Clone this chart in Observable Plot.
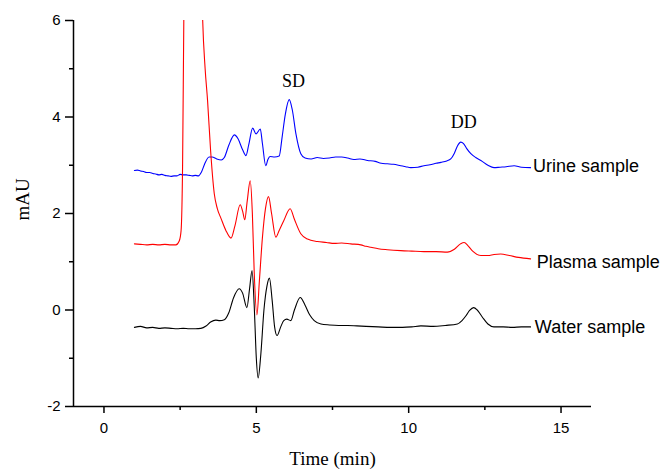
<!DOCTYPE html>
<html><head><meta charset="utf-8">
<script src="https://cdn.jsdelivr.net/npm/d3@7"></script>
<script src="https://cdn.jsdelivr.net/npm/@observablehq/plot@0.6"></script>
<style>body{margin:0;background:#fff}</style>
</head><body><div id="chart"></div>
<script>
// [time (min), signal (mAU)]
const urine = [
[1.0,2.89],[1.1,2.90],[1.2,2.88],[1.3,2.87],[1.4,2.85],[1.5,2.85],[1.6,2.83],[1.7,2.82],[1.8,2.80],[1.9,2.81],[2.0,2.79],
[2.1,2.78],[2.2,2.77],[2.3,2.78],[2.4,2.78],[2.5,2.81],[2.6,2.80],[2.7,2.80],[2.8,2.79],[2.9,2.78],[3.0,2.79],[3.1,2.78],
[3.2,2.86],[3.3,3.02],[3.45,3.17],[3.55,3.17],[3.7,3.13],[3.85,3.11],[3.95,3.16],[4.1,3.42],[4.28,3.63],[4.4,3.55],
[4.55,3.32],[4.66,3.20],[4.75,3.42],[4.88,3.77],[4.99,3.65],[5.13,3.75],[5.2,3.45],[5.31,2.99],[5.38,3.12],[5.45,3.18],
[5.6,3.17],[5.75,3.19],[5.85,3.60],[5.95,4.05],[6.08,4.36],[6.18,4.15],[6.3,3.65],[6.46,3.24],[6.6,3.15],[6.8,3.13],
[7.0,3.16],[7.2,3.14],[7.4,3.15],[7.6,3.17],[7.8,3.17],[8.0,3.15],[8.2,3.12],[8.4,3.13],[8.65,3.10],[8.9,3.08],[9.1,3.04],
[9.3,3.03],[9.5,3.02],[9.74,2.99],[9.9,2.97],[10.07,2.95],[10.3,2.96],[10.5,2.99],[10.7,3.01],[10.9,3.04],[11.06,3.06],
[11.25,3.09],[11.38,3.13],[11.5,3.25],[11.6,3.40],[11.71,3.48],[11.8,3.45],[11.9,3.35],[12.04,3.24],[12.2,3.16],
[12.37,3.10],[12.6,3.00],[12.8,2.95],[13.0,2.96],[13.2,2.97],[13.46,2.99],[13.7,2.96],[14.0,2.95]
];
const plasma = [
[1.0,1.37],[1.2,1.36],[1.4,1.35],[1.6,1.36],[1.8,1.35],[2.0,1.36],[2.2,1.35],[2.36,1.35],[2.47,1.43],[2.53,1.64],
[2.58,3.0],[2.62,6.0],[2.7,10],[2.9,14],[3.1,11],[3.24,6.0],[3.32,5.0],[3.40,4.34],[3.5,3.3],[3.62,2.41],[3.72,2.10],
[3.84,1.90],[4.0,1.65],[4.17,1.49],[4.3,1.75],[4.47,2.18],[4.55,2.05],[4.62,1.87],[4.7,2.25],[4.8,2.68],[4.87,2.0],
[4.93,0.8],[5.02,-0.10],[5.1,0.6],[5.2,1.5],[5.3,2.1],[5.4,2.35],[5.5,2.0],[5.64,1.51],[5.75,1.65],[5.9,1.85],
[6.11,2.10],[6.25,1.88],[6.46,1.58],[6.68,1.47],[7.0,1.42],[7.3,1.40],[7.56,1.38],[7.8,1.39],[8.1,1.37],[8.43,1.35],
[8.6,1.32],[8.76,1.30],[9.0,1.27],[9.3,1.25],[9.74,1.23],[10.1,1.22],[10.5,1.21],[10.9,1.21],[11.27,1.20],[11.5,1.26],
[11.7,1.37],[11.82,1.40],[11.95,1.33],[12.1,1.22],[12.37,1.13],[12.6,1.13],[12.8,1.15],[13.02,1.16],[13.3,1.13],
[13.6,1.09],[14.0,1.06]
];
const water = [
[1.0,-0.36],[1.2,-0.34],[1.4,-0.37],[1.6,-0.36],[1.8,-0.38],[2.0,-0.37],[2.2,-0.38],[2.4,-0.39],[2.6,-0.38],[2.8,-0.39],
[3.0,-0.39],[3.18,-0.38],[3.35,-0.33],[3.5,-0.25],[3.67,-0.21],[3.8,-0.22],[3.95,-0.20],[4.1,-0.05],[4.25,0.25],
[4.44,0.44],[4.55,0.35],[4.69,0.05],[4.78,0.45],[4.86,0.82],[4.93,0.1],[5.0,-1.0],[5.06,-1.41],[5.15,-0.9],[5.25,0.0],
[5.35,0.5],[5.43,0.66],[5.52,0.2],[5.6,-0.35],[5.68,-0.53],[5.8,-0.35],[5.9,-0.22],[6.0,-0.19],[6.13,-0.22],[6.25,0.0],
[6.44,0.26],[6.6,0.10],[6.75,-0.10],[6.9,-0.22],[7.12,-0.29],[7.4,-0.31],[7.7,-0.32],[8.0,-0.32],[8.3,-0.33],[8.6,-0.34],
[9.0,-0.35],[9.4,-0.36],[9.8,-0.36],[10.1,-0.35],[10.4,-0.33],[10.8,-0.34],[11.2,-0.32],[11.6,-0.29],[11.75,-0.22],
[11.88,-0.12],[12.0,-0.01],[12.13,0.05],[12.25,0.0],[12.42,-0.15],[12.6,-0.29],[12.8,-0.35],[13.1,-0.35],[13.4,-0.36],
[13.7,-0.35],[14.0,-0.35]
];
const seriesNames = ["Urine sample", "Plasma sample", "Water sample"];
const seriesLabelX = [14.08, 14.2, 14.14];
const seriesLabelY = [2.97, 0.99, -0.36];
const peakNames = ["SD", "DD"];
const peakX = [6.22, 11.81];
const peakY = [4.74, 3.90];
const xTicks = [0, 5, 10, 15];
const xMinor = [2.5, 7.5, 12.5];
const yTicks = [-2, 0, 2, 4, 6];
const yMinor = [-1, 1, 3, 5];

const sans = "'Liberation Sans', Arial, sans-serif";
const serif = "'Liberation Serif', 'Times New Roman', serif";
const X = d => d[0], Y = d => d[1];

const chart = Plot.plot({
  width: 662, height: 469,
  marginLeft: 73, marginRight: 71, marginTop: 20, marginBottom: 63,
  style: {fontFamily: sans, fontSize: "15px", background: "#fff", color: "#000"},
  x: {domain: [-1, 16]},
  y: {domain: [-2, 6]},
  marks: [
    Plot.line(urine, {x: X, y: Y, stroke: "#0000ff", strokeWidth: 1.1, curve: "monotone-x", clip: true}),
    Plot.line(plasma, {x: X, y: Y, stroke: "#ff0000", strokeWidth: 1.1, curve: "monotone-x", clip: true}),
    Plot.line(water, {x: X, y: Y, stroke: "#000000", strokeWidth: 1.1, curve: "monotone-x", clip: true}),
    Plot.ruleX([-1], {stroke: "#000", strokeWidth: 1.5}),
    Plot.ruleY([-2], {stroke: "#000", strokeWidth: 1.5}),
    Plot.axisX(xTicks, {tickSize: 7, tickPadding: 9, strokeWidth: 1.5, label: null, fontSize: 15, tickFormat: d => String(d)}),
    Plot.axisX(xMinor, {tickSize: 4, strokeWidth: 1.5, label: null, tickFormat: () => ""}),
    Plot.axisY(yTicks, {tickSize: 8, tickPadding: 5, strokeWidth: 1.5, label: null, fontSize: 15, tickFormat: d => String(d)}),
    Plot.axisY(yMinor, {tickSize: 4, strokeWidth: 1.5, label: null, tickFormat: () => ""}),
    Plot.text(seriesNames, {x: (d, i) => seriesLabelX[i], y: (d, i) => seriesLabelY[i], text: d => d,
      textAnchor: "start", fontSize: 18, fontFamily: sans, fill: "#000"}),
    Plot.text(peakNames, {x: (d, i) => peakX[i], y: (d, i) => peakY[i], text: d => d,
      fontSize: 18, fontFamily: serif, fill: "#000"}),
    Plot.text(["Time (min)"], {frameAnchor: "bottom", dy: 58, text: d => d, fontSize: 19, fontFamily: serif, fill: "#000"}),
    Plot.text(["mAU"], {frameAnchor: "left", rotate: -90, dx: -51, dy: 7, text: d => d, fontSize: 19, fontFamily: serif, fill: "#000"})
  ]
});
document.getElementById("chart").appendChild(chart);
</script>
</body></html>
